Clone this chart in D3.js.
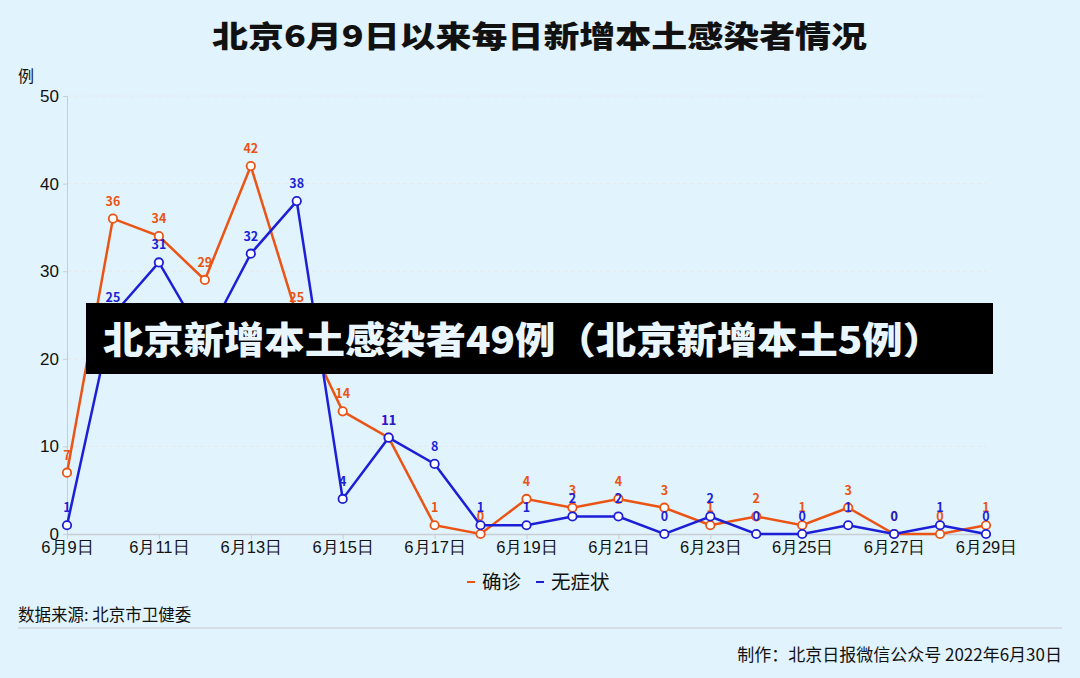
<!DOCTYPE html>
<html lang="zh">
<head>
<meta charset="utf-8">
<title>北京6月9日以来每日新增本土感染者情况</title>
<script src="https://cdn.jsdelivr.net/npm/d3@7"></script>
<style>
body { margin:0; background:#e1f3fd; }
svg { display:block; font-family:"Noto Sans CJK SC", "Noto Sans", sans-serif; }
.tick text { font-size:16px; fill:#111; }
</style>
</head>
<body>
<div id="chart"></div>
<script>
// 日期与数据
var dates = ["6月9日","6月10日","6月11日","6月12日","6月13日","6月14日","6月15日","6月16日","6月17日","6月18日","6月19日",
	"6月20日","6月21日","6月22日","6月23日","6月24日","6月25日","6月26日","6月27日","6月28日","6月29日"];
var confirmed = [7,36,34,29,42,25,14,11,1,0,4,3,4,3,1,2,1,3,0,0,1];
var asymptomatic = [1,25,31,22,32,38,4,11,8,1,1,2,2,0,2,0,0,1,0,1,0];
var yTicks = [0,10,20,30,40,50];
var seriesNames = ["确诊","无症状"];
var seriesColors = ["#ea5414","#1c1fd6"];

var W = 1080, H = 678;
var svg = d3.select("#chart").append("svg").attr("width", W).attr("height", H);
svg.append("rect").attr("width", W).attr("height", H).attr("fill", "#e1f3fd");

var x = d3.scalePoint().domain(dates).range([67, 986]);
var y = d3.scaleLinear().domain([0, 50]).range([534, 96]);

// 标题
svg.append("text").attr("x", 212).attr("y", 47)
	.attr("font-size", 30).attr("font-weight", 900).attr("fill", "#111")
	.attr("textLength", 655).attr("lengthAdjust", "spacingAndGlyphs")
	.text("北京6月9日以来每日新增本土感染者情况");
svg.append("text").attr("x", 18).attr("y", 82).attr("font-size", 16).attr("fill", "#111").text("例");

// 网格线
svg.append("g").selectAll("line").data(yTicks.filter(function(d){return d > 0;}))
	.enter().append("line")
	.attr("x1", 67).attr("x2", 986)
	.attr("y1", function(d){return y(d);}).attr("y2", function(d){return y(d);})
	.attr("stroke", "#e8e8ec").attr("stroke-dasharray", "4,3");

// 坐标轴
var yAxis = svg.append("g").attr("transform", "translate(67,0)")
	.call(d3.axisLeft(y).tickValues(yTicks).tickSize(4).tickPadding(4));
yAxis.select(".domain").attr("stroke", "#c9cdd2");
yAxis.selectAll(".tick line").attr("stroke", "#c9cdd2");
yAxis.selectAll(".tick text").style("font-size", "17px");

var xAxis = svg.append("g").attr("transform", "translate(0,534)")
	.call(d3.axisBottom(x).tickValues(dates.filter(function(d,i){return i % 2 === 0;})).tickSize(5).tickPadding(2).tickSizeOuter(0));
xAxis.select(".domain").attr("stroke", "#c9cdd2").attr("stroke-width", 1.5);
xAxis.selectAll(".tick line").attr("stroke", "#c9cdd2");
xAxis.selectAll(".tick text").style("font-size", "16.5px");

// 折线
var line = d3.line().x(function(d,i){return x(dates[i]);}).y(function(d){return y(d);});
[confirmed, asymptomatic].forEach(function(data, k){
	var g = svg.append("g");
	g.append("path").datum(data).attr("d", line)
		.attr("fill", "none").attr("stroke", seriesColors[k]).attr("stroke-width", 2.5);
	g.selectAll("circle").data(data).enter().append("circle")
		.attr("cx", function(d,i){return x(dates[i]);})
		.attr("cy", function(d){return y(d);})
		.attr("r", 4.2).attr("fill", "#fff")
		.attr("stroke", seriesColors[k]).attr("stroke-width", 1.8);
	g.selectAll("text").data(data).enter().append("text")
		.attr("x", function(d,i){return x(dates[i]);})
		.attr("y", function(d){return y(d) - 13;})
		.attr("text-anchor", "middle").attr("font-size", 12.5).attr("font-weight", 700)
		.attr("fill", seriesColors[k])
		.text(function(d){return d;});
});

// 黑色横幅
svg.append("rect").attr("x", 86).attr("y", 303).attr("width", 907).attr("height", 71).attr("fill", "#000");
svg.append("text").attr("x", 103).attr("y", 354).attr("font-size", 37).attr("font-weight", 900)
	.attr("fill", "#eaf6fd").attr("textLength", 840).attr("lengthAdjust", "spacingAndGlyphs")
	.text("北京新增本土感染者49例（北京新增本土5例）");

// 图例
var legend = svg.append("g").attr("transform", "translate(467,582)");
var lx = [0, 69];
seriesNames.forEach(function(n, k){
	legend.append("line").attr("x1", lx[k]).attr("x2", lx[k] + 8).attr("y1", 0).attr("y2", 0)
		.attr("stroke", seriesColors[k]).attr("stroke-width", 2);
	legend.append("text").attr("x", lx[k] + 15).attr("y", 7).attr("font-size", 19.5).attr("fill", "#111").text(n);
});

// 数据来源与署名
svg.append("text").attr("x", 18).attr("y", 621).attr("font-size", 16.5).attr("fill", "#111").text("数据来源: 北京市卫健委");
svg.append("line").attr("x1", 18).attr("x2", 1062).attr("y1", 628).attr("y2", 628).attr("stroke", "#cfd6da").attr("stroke-width", 1.5);
svg.append("text").attr("x", 1062).attr("y", 661).attr("text-anchor", "end").attr("font-size", 17).attr("fill", "#111")
	.text("制作：北京日报微信公众号 2022年6月30日");
</script>
</body>
</html>
